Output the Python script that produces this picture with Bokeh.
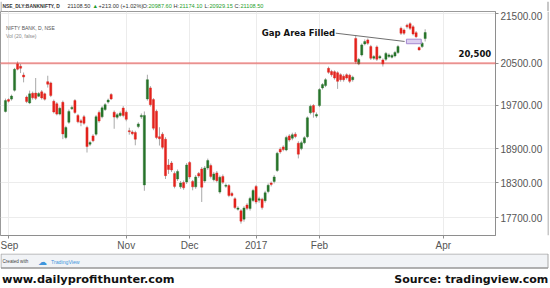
import pandas as pd
from bokeh.plotting import figure
from bokeh.layouts import column, row
from bokeh.models import Range1d, FixedTicker, PrintfTickFormatter, Span, ColumnDataSource
from bokeh.core.properties import value
from bokeh.embed import file_html
from bokeh.resources import INLINE

# ---------------- data (NSE BANKNIFTY daily) ----------------
first_day = "2016-08-31"
last_day = "2017-04-28"
holidays = ["2016-09-05", "2016-09-13", "2016-10-11", "2016-10-12", "2016-10-31",
            "2016-11-14", "2017-01-26", "2017-02-24", "2017-03-13", "2017-04-04",
            "2017-04-14"]
special_sessions = ["2016-10-30"]  # Muhurat trading

month_ticks = ["2016-09", "2016-11", "2016-12", "2017-01", "2017-02", "2017-04"]
month_labels = ["Sep", "Nov", "Dec", "2017", "Feb", "Apr"]

price_ticks = [17700, 18300, 18900, 19700, 20500, 21500]
level_value = 20500
level_text = "20,500"

opens = [19584, 19806, 19815, 19982, 20490, 20443, 20273, 19853, 19744, 19925,
         19929, 19870, 19952, 19914, 20146, 20122, 19774, 19727, 19535, 19755,
         19106, 19384, 19635, 19787, 19511, 19411, 19487, 19287, 18984, 19135,
         19166, 19565, 19484, 19620, 19759, 19901, 19571, 19475, 19511, 19647,
         19571, 19229, 19207, 19196, 19305, 19484, 18264, 19819, 20027, 19806,
         19589, 19120, 19166, 19075, 18613, 18648, 18465, 18368, 18231, 18307,
         18316, 18657, 18325, 18231, 18465, 18543, 18333, 18561, 18604, 18356,
         18474, 18141, 18412, 18242, 18253, 18117, 18027, 17846, 17820, 17680,
         17920, 17858, 17998, 18239, 18002, 18019, 17993, 18151, 18298, 18325,
         18517, 18893, 18935, 18881, 19135, 19093, 19166, 19002, 18905, 19011,
         19120, 19560, 19693, 19498, 19693, 20027, 20071, 20402, 20341, 20336,
         20317, 20279, 20250, 20279, 20269, 20184, 20990, 20487, 20664, 20882,
         20961, 20828, 20599, 20822, 20605, 20565, 20579, 20631, 20619, 20644,
         20710, 21192, 21158, 21257, 21287, 21223, 21105, 20808, 20828, 20987.60]
highs = [19825, 19830, 19900, 20411, 20536, 20487, 20322, 19882, 19976, 19957,
         20216, 19948, 19986, 19938, 20260, 20146, 19806, 19759, 19675, 19787,
         19320, 19620, 19693, 19815, 19538, 19447, 19520, 19320, 19047, 19166,
         19520, 19602, 19684, 19740, 19825, 19929, 19602, 19556, 19584, 19684,
         19602, 19284, 19238, 19229, 19384, 19547, 19584, 20279, 20061, 19834,
         19620, 19293, 19202, 19111, 18718, 18683, 18500, 18534, 18333, 18342,
         18648, 18683, 18351, 18438, 18491, 18578, 18596, 18727, 18639, 18491,
         18508, 18429, 18447, 18290, 18281, 18146, 18053, 17900, 17849, 17900,
         17951, 18061, 18197, 18264, 18061, 18044, 18163, 18290, 18324, 18438,
         18849, 18929, 18965, 19138, 19166, 19193, 19202, 19038, 19047, 19129,
         19493, 19711, 19721, 19565, 20023, 20118, 20213, 20436, 20373, 20364,
         20345, 20307, 20288, 20307, 20298, 20260, 21059, 20605, 20891, 20970,
         20990, 20862, 20664, 20852, 20664, 20595, 20723, 20694, 20684, 20743,
         20862, 21227, 21188, 21287, 21316, 21257, 21138, 20832, 20921, 21174.10]
lows = [19565, 19750, 19787, 19957, 20364, 20311, 20133, 19740, 19721, 19806,
        19797, 19853, 19806, 19787, 20033, 19853, 19547, 19511, 19511, 19075,
        19075, 19356, 19611, 19538, 19365, 19311, 19338, 18835, 18951, 19020,
        19138, 19375, 19456, 19593, 19730, 19797, 19265, 19438, 19484, 19475,
        19402, 19156, 19147, 18965, 19275, 19447, 18163, 19787, 19675, 19238,
        19075, 18960, 18893, 18368, 18456, 18491, 18205, 18333, 18197, 18180,
        18281, 18368, 18171, 18197, 18386, 17971, 18298, 18526, 18377, 18325,
        18307, 18112, 18281, 18214, 18053, 18061, 17849, 17824, 17605, 17638,
        17832, 17824, 17968, 17934, 17959, 17841, 17959, 18120, 18239, 18290,
        18491, 18814, 18858, 18858, 19029, 19056, 19093, 18730, 18876, 18984,
        19093, 19529, 19469, 19465, 19665, 19995, 20042, 20298, 20241, 20184,
        20008, 20146, 20146, 20184, 20118, 20146, 20487, 20464, 20635, 20852,
        20862, 20565, 20565, 20546, 20575, 20437, 20546, 20605, 20595, 20615,
        20684, 21059, 21059, 21188, 21158, 21049, 21000, 20749, 20802, 20929.15]
closes = [19787, 19774, 19872, 20383, 20387, 20405, 20235, 19768, 19914, 19840,
          19829, 19919, 19838, 19814, 20097, 19882, 19575, 19535, 19642, 19171,
          19287, 19584, 19660, 19565, 19393, 19378, 19365, 18942, 19015, 19047,
          19487, 19407, 19651, 19711, 19797, 19819, 19480, 19524, 19551, 19511,
          19438, 19211, 19175, 19075, 19353, 19511, 19511, 20184, 19711, 19275,
          19106, 19084, 18928, 18426, 18534, 18526, 18239, 18500, 18298, 18214,
          18613, 18403, 18231, 18403, 18421, 18225, 18561, 18692, 18412, 18456,
          18339, 18398, 18310, 18259, 18083, 18083, 17875, 17869, 17647, 17869,
          17863, 18032, 18168, 17971, 18027, 17875, 18129, 18259, 18273, 18403,
          18823, 18846, 18888, 19106, 19060, 19156, 19124, 18806, 19011, 19102,
          19466, 19680, 19571, 19529, 19995, 20090, 20184, 20326, 20279, 20216,
          20152, 20184, 20184, 20216, 20152, 20231, 20532, 20575, 20862, 20927,
          20895, 20599, 20631, 20579, 20635, 20487, 20694, 20664, 20654, 20710,
          20828, 21093, 21093, 21223, 21192, 21079, 21026, 20763, 20895, 21108.50]

prev_close = 20895.50
symbol_text = "NSE_DLY:BANKNIFTY, D"
study_titles = ["NIFTY BANK, D, NSE", "Vol (20, false)"]

gap_box = {"x0": 132.8, "x1": 137.7, "low": 20885, "high": 20975}
gap_note = {"text": "Gap Area Filled", "x": 109.4, "y": 21095, "x_end": 132.2, "y_end": 20930}

site_text = "www.dailyprofithunter.com"
source_text = "Source: tradingview.com"

# ---------------- calendar / positions ----------------
days = pd.bdate_range(first_day, last_day)
days = days.drop(pd.to_datetime(holidays), errors="ignore")
days = days.union(pd.to_datetime(special_sessions))
months = list(days.strftime("%Y-%m"))
tick_idx = [months.index(m) for m in month_ticks]

n = len(opens)
GREEN = "#27732a"
RED = "#e3231d"
src = ColumnDataSource(dict(
    x=list(range(n)),
    top=[max(o, c) for o, c in zip(opens, closes)],
    bot=[min(o, c) for o, c in zip(opens, closes)],
    high=highs, low=lows,
    color=[GREEN if c >= o else RED for o, c in zip(opens, closes)],
    date=[d.strftime("%Y-%m-%d") for d in days[:n]],
))

FONT = value("Liberation Sans")
BORDER = "#8f8f8f"


def blank(width, height, x0, x1, y0, y1):
    f = figure(width=width, height=height, output_backend="svg", toolbar_location=None,
               x_range=Range1d(x0, x1), y_range=Range1d(y0, y1),
               x_axis_type=None, y_axis_type=None, min_border=0)
    f.min_border_left = f.min_border_right = f.min_border_top = f.min_border_bottom = 0
    f.outline_line_color = None
    f.grid.visible = False
    f.background_fill_color = "white"
    f.border_fill_color = "white"
    return f


# ---------------- header strip (canvas px coordinates, y downward) ----------------
head = blank(550, 11, 0, 550, 11, 0)
chg = closes[-1] - prev_close
hx = [2, 67, 92, 98, 142, 148, 173, 179, 204, 209, 234, 240]
htxt = [symbol_text, f"{closes[-1]:.2f}", "\u25B2",
        f"+{chg:.2f} (+{chg / prev_close * 100:.2f}%)",
        "O:", f"{opens[-1]:.2f}", "H:", f"{highs[-1]:.2f}",
        "L:", f"{lows[-1]:.2f}", "C:", f"{closes[-1]:.2f}"]
hcol = ["#333333", "#333333", "#1f9e2c", "#333333", "#333333", "#1f9e2c",
        "#333333", "#1f9e2c", "#333333", "#1f9e2c", "#333333", "#1f9e2c"]
head.text(x=hx[:1], y=[4.5], text=htxt[:1], text_color=hcol[0], text_font=FONT,
          text_font_size="4.9px", text_font_style="bold", text_baseline="middle")
head.text(x=hx[1:], y=[4.5] * (len(hx) - 1), text=htxt[1:], text_color=hcol[1:],
          text_font=FONT, text_font_size="5.6px", text_baseline="middle")
head.segment(x0=[0.5, 547.5], y0=[0, 0], x1=[0.5, 547.5], y1=[11, 11], line_color=BORDER)

# ---------------- main price pane ----------------
p = figure(width=547, height=242, output_backend="svg", toolbar_location=None,
           y_axis_type="log", y_axis_location="right",
           x_range=Range1d(-1.65, 162.3), y_range=Range1d(17408, 21534),
           min_border_left=0, min_border_right=52, min_border_top=0,
           min_border_bottom=16)
p.background_fill_color = "white"
p.border_fill_color = "white"
p.outline_line_color = "#9a9a9a"

p.yaxis.ticker = FixedTicker(ticks=price_ticks)
p.yaxis.formatter = PrintfTickFormatter(format="%.2f")
p.xaxis.ticker = FixedTicker(ticks=tick_idx)
p.xaxis.major_label_overrides = {t: lab for t, lab in zip(tick_idx, month_labels)}
for ax in (p.xaxis[0], p.yaxis[0]):
    ax.major_label_text_font = "Liberation Sans"
    ax.major_label_text_font_size = "10px"
    ax.major_label_text_color = "#555555"
    ax.axis_line_color = "#8e8e8e"
    ax.major_tick_line_color = "#8e8e8e"
    ax.major_tick_out = 3
    ax.major_tick_in = 0
    ax.minor_tick_line_color = None
p.yaxis.major_label_standoff = 2
p.xaxis.major_label_standoff = 1
p.xgrid.ticker = FixedTicker(ticks=tick_idx)
p.ygrid.ticker = FixedTicker(ticks=price_ticks)
p.xgrid.grid_line_color = "#ececec"
p.ygrid.grid_line_color = "#ececec"

p.add_layout(Span(location=level_value, dimension="width", line_color="#e53935",
                  line_width=2, line_dash="1 1"))

p.segment(x0="x", y0="low", x1="x", y1="high", source=src, line_color="#a9a9a9", line_width=1)
p.vbar(x="x", width=0.72, top="top", bottom="bot", source=src,
       fill_color="color", line_color="color", line_width=0.4)

p.quad(left=[gap_box["x0"]], right=[gap_box["x1"]], bottom=[gap_box["low"]],
       top=[gap_box["high"]], fill_color="#dccff0", line_color="#a58ad0", line_width=1)
p.segment(x0=[gap_note["x"]], y0=[gap_note["y"]], x1=[gap_note["x_end"]],
          y1=[gap_note["y_end"]], line_color="#6f6f6f", line_width=1)
p.text(x=[gap_note["x"] - 0.2], y=[gap_note["y"]], text=[gap_note["text"]],
       text_align="right", text_baseline="middle", text_font=value("DejaVu Sans"),
       text_font_style="bold", text_font_size="8.5px", text_color="#111111")
p.text(x=[160.9], y=[20690], text=[level_text], text_align="right",
       text_baseline="middle", text_font=value("DejaVu Sans"), text_font_style="bold",
       text_font_size="8.5px", text_color="#111111")

# study titles at the pane's top-left corner
p.text(x=[0.15, 0.15], y=[21190, 21040], text=study_titles,
       text_color=["#555555", "#8a8a8a"], text_baseline="middle", text_font=FONT,
       text_font_size="5px")

# thin right border of the widget
edge = blank(3, 242, 0, 3, 0, 1)
edge.quad(left=[0], right=[1], bottom=[0], top=[1], fill_color=BORDER, line_color=None)

# ---------------- footer (canvas px coordinates, y downward) ----------------
foot = blank(550, 35, 0, 550, 288, 253)
foot.quad(left=[0.5], right=[547.5], top=[253.5], bottom=[267.5],
          fill_color="#f1f3f6", line_color="#a8a8a8", line_width=1)
foot.segment(x0=[0.5], y0=[267.5], x1=[547.5], y1=[267.5], line_color=BORDER)
foot.text(x=[2], y=[261], text=["Created with"], text_color="#444444", text_font=FONT,
          text_font_size="4.6px", text_baseline="middle")
foot.text(x=[37.5], y=[261], text=["\u2601"], text_color="#3f95dc",
          text_font=value("DejaVu Sans"), text_font_size="9px", text_baseline="middle")
foot.text(x=[50.5], y=[261], text=["TradingView"], text_color="#3f95dc", text_font=FONT,
          text_font_size="5.2px", text_baseline="middle")
foot.text(x=[1.5], y=[278.5], text=[site_text], text_color="#111111",
          text_font=value("DejaVu Sans"), text_font_style="bold",
          text_font_size="11.3px", text_baseline="middle")
foot.text(x=[547.7], y=[278.7], text=[source_text], text_color="#111111",
          text_font=value("DejaVu Sans"), text_font_style="bold",
          text_font_size="11px", text_baseline="middle", text_align="right")

layout = column(head, row(p, edge, spacing=0), foot, spacing=0)
open("out.html", "w").write(file_html(layout, INLINE))
